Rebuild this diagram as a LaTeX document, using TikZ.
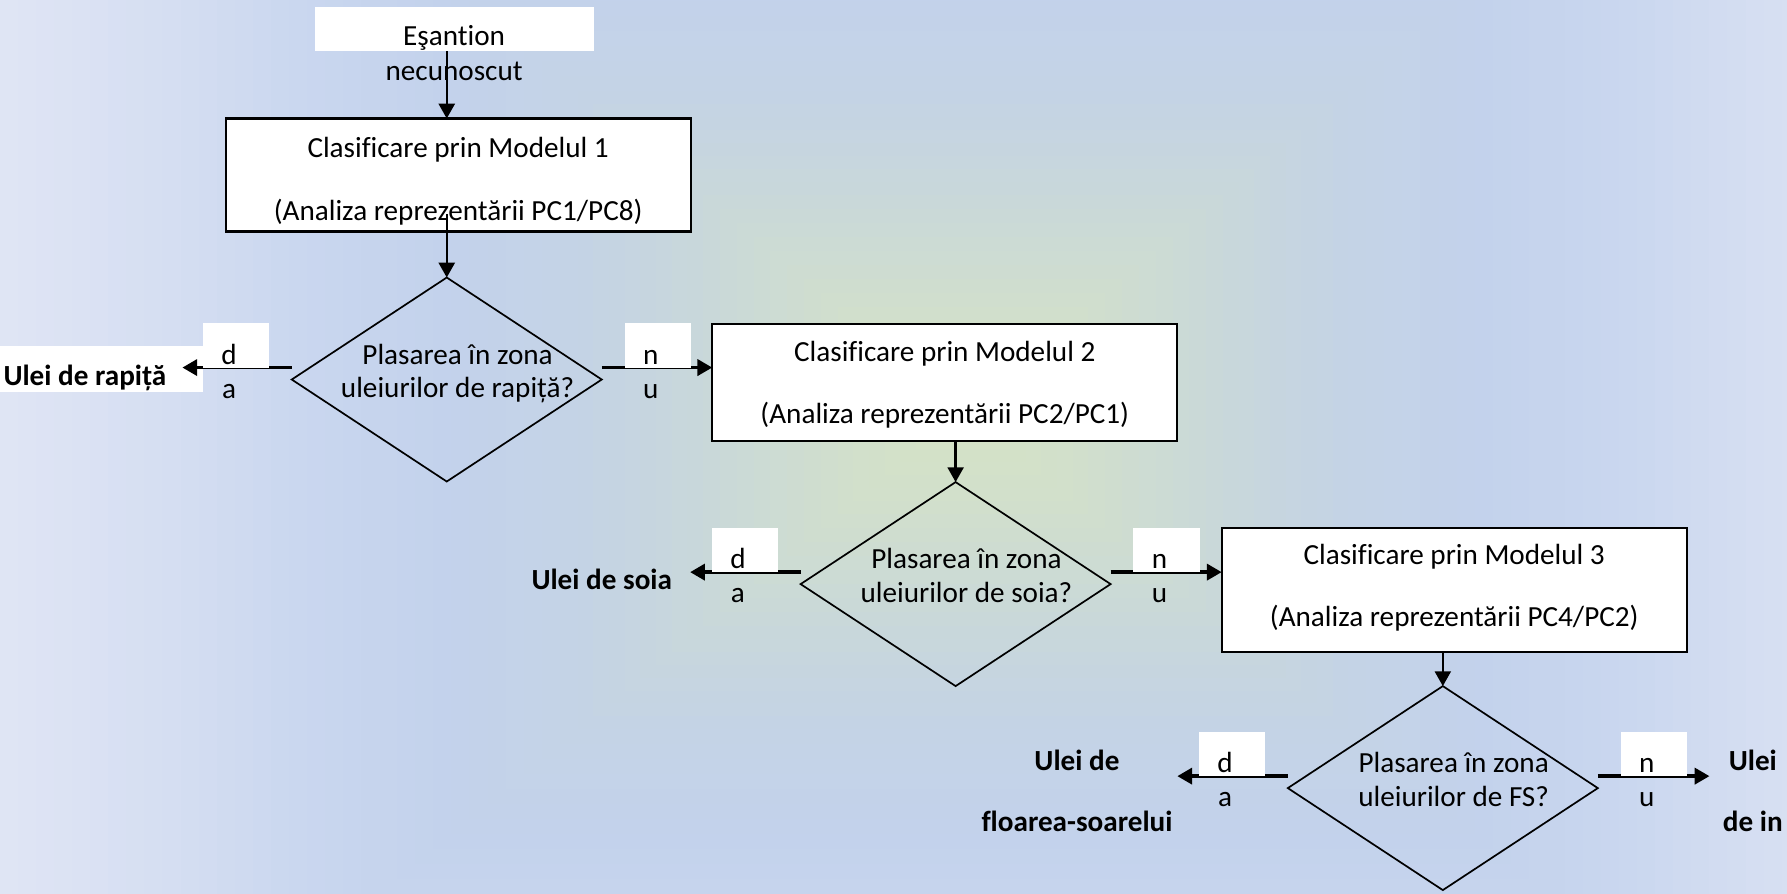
\documentclass[tikz,border=0pt]{standalone}
\usepackage{fontspec}
\setmainfont{Carlito}[Ligatures=CommonOff]
\usetikzlibrary{arrows.meta,shapes.geometric,calc}
\definecolor{g0}{HTML}{D6E4C4}
\definecolor{g1}{HTML}{D1DFCC}
\definecolor{g2}{HTML}{C9D8D9}
\definecolor{g3}{HTML}{C4D3E5}
\definecolor{g4}{HTML}{C3D2EC}
\definecolor{g5}{HTML}{CAD7EF}
\definecolor{g6}{HTML}{D6DFF2}
\definecolor{g7}{HTML}{DFE5F4}
\begin{document}
\begin{tikzpicture}[x=0.5pt,y=-0.5pt,
  box/.style={draw=black, line width=1pt, fill=white, rectangle, inner sep=0pt, outer sep=0pt, minimum width=204pt},
  dia/.style={draw=black, line width=0.75pt, diamond, inner sep=0pt, outer sep=0pt, minimum width=136pt, minimum height=89.5pt},
  txt/.style={inner sep=0pt, anchor=base, font=\fontsize{12.8pt}{15pt}\selectfont},
  btxt/.style={inner sep=0pt, anchor=base, font=\fontsize{12.8pt}{15pt}\selectfont\bfseries},
  varrow/.style={draw=black, line width=1.1pt, -{Triangle[length=6.5pt,width=7pt]}},
  harrow/.style={draw=black, line width=1.6pt, -{Triangle[length=6.5pt,width=7pt]}},
  startbox/.style={fill=white, inner sep=0pt, outer sep=0pt, minimum width=122.5pt, minimum height=19.5pt}
]
\useasboundingbox (0,0) rectangle (1568,784);
% background: rectangular path gradient
\begin{scope}
\clip (0,0) rectangle (1568,784);
\fill[g7] (0,0) rectangle (1568,784);
\foreach \ta/\tb/\ca/\cb in {1.00/0.85/g7/g6, 0.85/0.70/g6/g5, 0.70/0.55/g5/g4, 0.55/0.40/g4/g3, 0.40/0.27/g3/g2, 0.27/0.13/g2/g1, 0.13/0.0/g1/g0}{
  \foreach \i in {0,...,7}{
    \pgfmathsetmacro\gT{\ta-(\ta-\tb)*\i/8}
    \pgfmathtruncatemacro\gP{100*\i/8}
    \fill[\cb!\gP!\ca] ({845-845*\gT},{360-700*\gT}) rectangle ({845+845*\gT},{360+700*\gT});
  }
}
\end{scope}

% white backgrounds of free texts
\node[startbox] (start) at (398.5,25.5) {};
\fill[white] (0,304) rectangle (178,344);

% process boxes and decisions
\node[box, minimum height=49.5pt] (b1) at (402,153.5) {};
\node[box, minimum height=51.5pt] (b2) at (829,335.5) {};
\node[box, minimum height=54.5pt] (b3) at (1276,517.5) {};
\node[dia] (d1) at (392,333) {};
\node[dia] (d2) at (838.5,512.5) {};
\node[dia] (d3) at (1266,691.5) {};

% connector coordinates
\coordinate (l1) at ($(d1.west)+(0,-10.5)$);
\coordinate (r1) at ($(d1.east)+(0,-10.5)$);
\coordinate (l2) at ($(d2.west)+(0,-10.5)$);
\coordinate (r2) at ($(d2.east)+(0,-10.5)$);
\coordinate (l3) at ($(d3.west)+(0,-10.5)$);
\coordinate (r3) at ($(d3.east)+(0,-10.5)$);
\coordinate (t1) at ($(l1)+(-96,0)$);
\coordinate (t2) at ($(l2)+(-97,0)$);
\coordinate (t3) at ($(l3)+(-97,0)$);
\coordinate (t4) at ($(r3)+(98,0)$);
\coordinate (c1) at ($(b1.south -| d1.north)+(0,-15)$);

% vertical connectors
\draw[varrow] (start.south -| d1.north) -- (b1.north -| d1.north);
\draw[varrow] (c1) -- (d1.north);
\draw[varrow] (b2.south -| d2.north) -- (d2.north);
\draw[varrow] (b3.south -| d3.north) -- (d3.north);

% horizontal connectors
\draw[harrow] (l1) -- (t1);
\draw[harrow] (r1) -- (r1 -| b2.west);
\draw[harrow] (l2) -- (t2);
\draw[harrow] (r2) -- (r2 -| b3.west);
\draw[harrow] (l3) -- (t3);
\draw[harrow] (r3) -- (t4);

% white label boxes
\foreach \p in {l1,l2,l3}{
  \fill[white] ($(\p)+(-78,-39)$) rectangle ($(\p)+(-20,0)$);
}
\foreach \p in {r1,r2,r3}{
  \fill[white] ($(\p)+(20,-39)$) rectangle ($(\p)+(78,0)$);
}

% texts
\node[txt] (s1) at (398.5,39.5) {Eşantion};
\node[txt] (s2) at (398.5,70.5) {necunoscut};

\node[txt] (b1a) at ($(b1.north)+(0,34.5)$) {Clasificare prin Modelul 1};
\node[txt] (b1b) at ($(b1.north)+(0,89.5)$) {(Analiza reprezentării PC1/PC8)};
\node[txt] (b2a) at ($(b2.north)+(0,33.5)$) {Clasificare prin Modelul 2};
\node[txt] (b2b) at ($(b2.north)+(0,87.5)$) {(Analiza reprezentării PC2/PC1)};
\node[txt] (b3a) at ($(b3.north)+(0,32.5)$) {Clasificare prin Modelul 3};
\node[txt] (b3b) at ($(b3.north)+(0,86.5)$) {(Analiza reprezentării PC4/PC2)};

\node[txt] (d1a) at ($(d1.center)+(9.5,-13.5)$) {Plasarea în zona};
\node[txt] (d1b) at ($(d1.center)+(9.5,16)$) {uleiurilor de rapiță?};
\node[txt] (d2a) at ($(d2.center)+(9.5,-13.5)$) {Plasarea în zona};
\node[txt] (d2b) at ($(d2.center)+(9.5,16)$) {uleiurilor de soia?};
\node[txt] (d3a) at ($(d3.center)+(9.5,-13.5)$) {Plasarea în zona};
\node[txt] (d3b) at ($(d3.center)+(9.5,16)$) {uleiurilor de FS?};

\foreach \p/\n in {l1/1,l2/2,l3/3}{
  \node[txt] (yd\n) at ($(\p)+(-55,-3)$) {d};
  \node[txt] (ya\n) at ($(\p)+(-55,27)$) {a};
}
\foreach \p/\n in {r1/1,r2/2,r3/3}{
  \node[txt] (nn\n) at ($(\p)+(43,-3)$) {n};
  \node[txt] (nu\n) at ($(\p)+(43,27)$) {u};
}

\node[btxt] (o1) at (74.5,338) {Ulei de rapiță};
\node[btxt] (o2) at (528,517.5) {Ulei de soia};
\node[btxt] (o3a) at (945,676) {Ulei de};
\node[btxt] (o3b) at (945,730) {floarea-soarelui};
\node[btxt] (o4a) at (1538,676) {Ulei};
\node[btxt] (o4b) at (1538,730) {de in};
\end{tikzpicture}
\end{document}
